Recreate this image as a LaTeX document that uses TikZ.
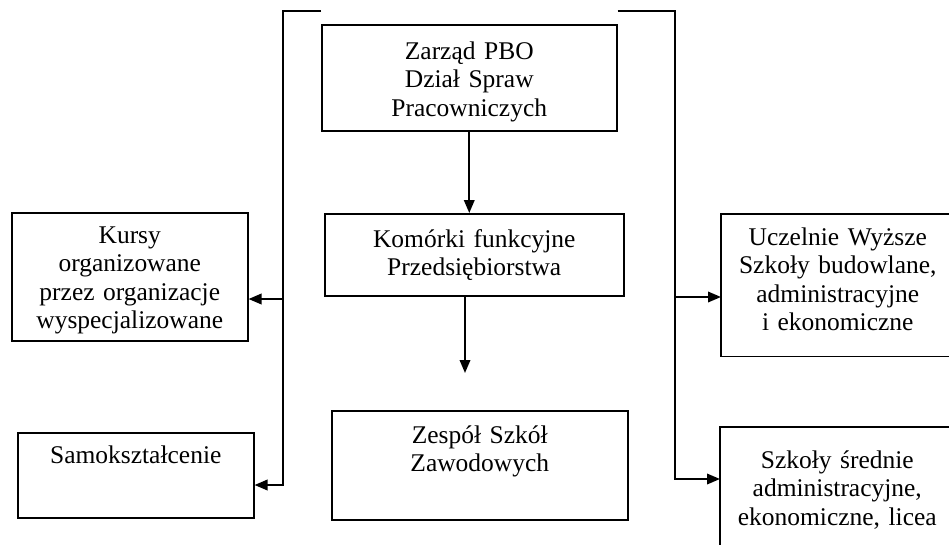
\documentclass[tikz,border=0pt]{standalone}
\usepackage{fontspec}
\setmainfont{Liberation Serif}
\usetikzlibrary{arrows.meta}

\begin{document}
\begin{tikzpicture}[
  x=0.02cm, y=-0.02cm,
  font=\fontsize{14.5}{16}\selectfont,
  box/.style n args={3}{draw, line width=0.9pt, anchor=north west, inner sep=0pt, align=center, text width=#1, text height=#2, text depth=#3},
  line/.style={line width=1.1pt},
  arr/.style={line width=1.1pt, -{Triangle[length=2.6mm, width=2.1mm]}}
]
\useasboundingbox (0,0) rectangle (949,544);
\clip (0,0) rectangle (949,544);
% centre column
\node[box={5.90cm}{0.70cm}{1.42cm}] (zarzad) at (321,24) {Zarząd PBO\\Dział Spraw\\Pracowniczych};
\node[box={5.98cm}{0.68cm}{0.96cm}] (komorki) at (324,213) {Komórki funkcyjne\\Przedsiębiorstwa};
\node[box={5.92cm}{0.66cm}{1.52cm}] (zespol) at (331,410) {Zespół Szkół\\Zawodowych};
% left column
\node[box={4.72cm}{0.62cm}{1.94cm}] (kursy) at (11,212) {Kursy\\organizowane\\przez organizacje\\wyspecjalizowane};
\node[box={4.72cm}{0.62cm}{1.08cm}] (samo) at (17,432) {Samokształcenie};
% right column, cut off by the page edge
\node[box={4.64cm}{0.62cm}{2.20cm}, draw=none] (uczelnie) at (721,214) {Uczelnie Wyższe\\Szkoły budowlane,\\administracyjne\\i ekonomiczne};
\node[box={4.66cm}{0.82cm}{1.64cm}, draw=none] (sredni) at (720,427) {Szkoły średnie\\administracyjne,\\ekonomiczne, licea};
\draw[line width=0.9pt] ([xshift=1cm]uczelnie.north east) -- (uczelnie.north west) -- (uczelnie.south west) -- ([xshift=1cm]uczelnie.south east);
\draw[line width=0.9pt] ([xshift=1cm]sredni.north east) -- (sredni.north west) -- ([yshift=-1cm]sredni.south west);
% junctions
\coordinate (lt) at ([yshift=0.26cm]zarzad.north west);
\coordinate (rt) at ([yshift=0.26cm]zarzad.north east);
\coordinate (jk) at (283,299);
\coordinate (js) at (283,485);
\coordinate (ju) at (675,297);
\coordinate (jr) at (675,479);
\coordinate (ze) at (465,373);
% connectors
\draw[arr] (zarzad.south) -- (zarzad.south |- komorki.north);
\draw[arr] (komorki.south -| ze) -- (ze);
\draw[arr] (lt) -| (js) -- (samo.east |- js);
\draw[arr] (jk) -- (kursy.east |- jk);
\draw[arr] (rt) -| (jr) -- (sredni.west |- jr);
\draw[arr] (ju) -- (uczelnie.west |- ju);
\end{tikzpicture}
\end{document}
